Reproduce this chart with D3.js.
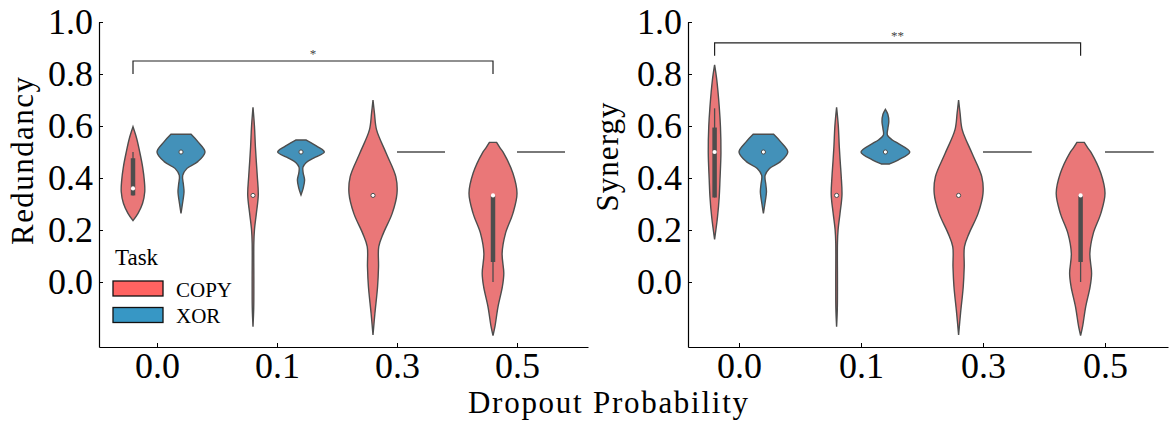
<!DOCTYPE html>
<html>
<head>
<meta charset="utf-8">
<script src="https://cdn.jsdelivr.net/npm/d3@7"></script>
<style>
  body { margin: 0; background: #fff; }
  svg { display: block; }
  text { font-family: "Liberation Serif", "DejaVu Serif", serif; fill: #000; }
</style>
</head>
<body>
<svg id="chart" width="1172" height="425"></svg>
<script>
// ---- data ----
const dropoutLevels = ["0.0", "0.1", "0.3", "0.5"];
const tasks = ["COPY", "XOR"];
const yTicks = [0.0, 0.2, 0.4, 0.6, 0.8, 1.0];

// profile: [value, relative half width]; box: [q1, q3, whiskerLo, whiskerHi, median]
const redundancyViolins = [
  {dropout: "0.0", task: "COPY",
   profile: [[0.597, 0], [0.553, 0.15], [0.50, 0.28], [0.443, 0.40], [0.392, 0.47], [0.347, 0.49], [0.303, 0.40], [0.264, 0.21], [0.236, 0]],
   box: [0.333, 0.476, 0.333, 0.50, 0.36]},
  {dropout: "0.0", task: "XOR",
   profile: [[0.568, 0.42], [0.54, 0.70], [0.50, 1.0], [0.463, 0.70], [0.437, 0.25], [0.41, 0.07], [0.375, 0.10], [0.347, 0.125], [0.30, 0.06], [0.264, 0]],
   box: [0.5, 0.5, 0.5, 0.5, 0.5]},
  {dropout: "0.1", task: "COPY",
   profile: [[0.672, 0], [0.60, 0.06], [0.52, 0.10], [0.46, 0.14], [0.405, 0.18], [0.335, 0.22], [0.264, 0.14], [0.20, 0.06], [0.15, 0.035], [0.0, 0.035], [-0.10, 0.03], [-0.172, 0]],
   box: [0.333, 0.333, 0.333, 0.333, 0.333]},
  {dropout: "0.1", task: "XOR",
   profile: [[0.546, 0.22], [0.52, 0.70], [0.50, 0.97], [0.48, 0.60], [0.46, 0.22], [0.441, 0.08], [0.42, 0.09], [0.392, 0.15], [0.36, 0.09], [0.335, 0]],
   box: [0.5, 0.5, 0.5, 0.5, 0.5]},
  {dropout: "0.3", task: "COPY",
   profile: [[0.70, 0], [0.65, 0.06], [0.585, 0.15], [0.495, 0.55], [0.405, 0.95], [0.341, 1.0], [0.264, 0.80], [0.187, 0.43], [0.136, 0.24], [0.059, 0.23], [-0.018, 0.19], [-0.12, 0.08], [-0.204, 0]],
   box: [0.333, 0.333, 0.333, 0.333, 0.333]},
  {dropout: "0.3", task: "XOR", profile: [[0.5, 1.0]], box: null},
  {dropout: "0.5", task: "COPY",
   profile: [[0.537, 0.15], [0.515, 0.30], [0.495, 0.45], [0.418, 0.83], [0.341, 1.0], [0.264, 0.83], [0.187, 0.52], [0.11, 0.38], [0.033, 0.45], [-0.018, 0.39], [-0.095, 0.21], [-0.172, 0.08], [-0.206, 0]],
   box: [0.077, 0.333, 0.0, 0.333, 0.333]},
  {dropout: "0.5", task: "XOR", profile: [[0.5, 1.0]], box: null}
];

const synergyViolins = [
  {dropout: "0.0", task: "COPY",
   profile: [[0.835, 0], [0.777, 0.09], [0.674, 0.19], [0.597, 0.24], [0.499, 0.26], [0.392, 0.22], [0.328, 0.19], [0.251, 0.12], [0.164, 0]],
   box: [0.325, 0.594, 0.325, 0.668, 0.50]},
  {dropout: "0.0", task: "XOR",
   profile: [[0.568, 0.42], [0.54, 0.70], [0.50, 1.0], [0.463, 0.70], [0.437, 0.25], [0.41, 0.07], [0.375, 0.10], [0.347, 0.125], [0.30, 0.06], [0.264, 0]],
   box: [0.5, 0.5, 0.5, 0.5, 0.5]},
  {dropout: "0.1", task: "COPY",
   profile: [[0.672, 0], [0.60, 0.07], [0.52, 0.11], [0.46, 0.15], [0.405, 0.19], [0.335, 0.22], [0.264, 0.14], [0.20, 0.06], [0.15, 0.035], [0.0, 0.035], [-0.10, 0.03], [-0.172, 0]],
   box: [0.333, 0.333, 0.333, 0.333, 0.333]},
  {dropout: "0.1", task: "XOR",
   profile: [[0.664, 0], [0.645, 0.10], [0.617, 0.14], [0.59, 0.10], [0.565, 0.08], [0.545, 0.30], [0.533, 0.52], [0.50, 1.0], [0.469, 0.52], [0.454, 0.17]],
   box: [0.5, 0.5, 0.5, 0.5, 0.5]},
  {dropout: "0.3", task: "COPY",
   profile: [[0.70, 0], [0.65, 0.06], [0.585, 0.15], [0.495, 0.55], [0.405, 0.95], [0.341, 1.0], [0.264, 0.80], [0.187, 0.43], [0.136, 0.24], [0.059, 0.23], [-0.018, 0.19], [-0.12, 0.08], [-0.204, 0]],
   box: [0.333, 0.333, 0.333, 0.333, 0.333]},
  {dropout: "0.3", task: "XOR", profile: [[0.5, 1.0]], box: null},
  {dropout: "0.5", task: "COPY",
   profile: [[0.537, 0.15], [0.515, 0.30], [0.495, 0.45], [0.418, 0.83], [0.341, 1.0], [0.264, 0.83], [0.187, 0.52], [0.11, 0.38], [0.033, 0.45], [-0.018, 0.39], [-0.095, 0.21], [-0.172, 0.08], [-0.206, 0]],
   box: [0.077, 0.333, 0.0, 0.333, 0.333]},
  {dropout: "0.5", task: "XOR", profile: [[0.5, 1.0]], box: null}
];

const sigBrackets = [
  {metric: "Redundancy", from: "0.0", to: "0.5", task: "COPY", y: 0.85, drop: 0.05, label: "*"},
  {metric: "Synergy", from: "0.0", to: "0.5", task: "COPY", y: 0.92, drop: 0.05, label: "**"}
];

// ---- style / layout ----
const violinFill = {COPY: "#ea7778", XOR: "#4391b9"};
const legendFill = {COPY: "#ff6361", XOR: "#3797c5"};
const lineGray = "#4d4d4d";

const panels = [
  {metric: "Redundancy", violins: redundancyViolins, x0: 99, x1: 588, cat0: 157, step: 120, labelX: 33, labelY: 161, legend: true},
  {metric: "Synergy", violins: synergyViolins, x0: 688, x1: 1168, cat0: 739, step: 122, labelX: 618, labelY: 157, legend: false}
];

const svg = d3.select("#chart");
svg.append("rect").attr("width", 1172).attr("height", 425).attr("fill", "#fff");

const y = d3.scaleLinear().domain([-0.25, 1.0]).range([347, 22]);

panels.forEach(p => {
  const x = d3.scaleLinear()
      .domain([(p.x0 - p.cat0) / p.step, (p.x1 - p.cat0) / p.step])
      .range([p.x0, p.x1]);
  const catX = d => x(dropoutLevels.indexOf(d));
  const hueOffset = t => (tasks.indexOf(t) === 0 ? -0.2 : 0.2) * p.step;
  const w = d3.scaleLinear().domain([0, 1]).range([0, 0.2 * p.step]);

  const g = svg.append("g");

  // violins
  p.violins.forEach(v => {
    const cx = catX(v.dropout) + hueOffset(v.task);
    if (v.profile.length === 1) {
      const [val, hw] = v.profile[0];
      g.append("line")
          .attr("x1", cx - w(hw)).attr("x2", cx + w(hw))
          .attr("y1", y(val)).attr("y2", y(val))
          .attr("stroke", lineGray).attr("stroke-width", 1.4);
      return;
    }
    const area = d3.area()
        .y(d => y(d[0]))
        .x0(d => cx - w(d[1]))
        .x1(d => cx + w(d[1]))
        .curve(d3.curveCatmullRom.alpha(0.5));
    g.append("path")
        .attr("d", area(v.profile))
        .attr("fill", violinFill[v.task])
        .attr("stroke", lineGray)
        .attr("stroke-width", 1.4);

    if (v.box) {
      const [q1, q3, lo, hi, med] = v.box;
      g.append("line")
          .attr("x1", cx).attr("x2", cx)
          .attr("y1", y(lo)).attr("y2", y(hi))
          .attr("stroke", lineGray).attr("stroke-width", 1.3);
      if (q3 > q1) {
        g.append("line")
            .attr("x1", cx).attr("x2", cx)
            .attr("y1", y(q1)).attr("y2", y(q3))
            .attr("stroke", lineGray).attr("stroke-width", 4.5);
      }
      g.append("circle")
          .attr("cx", cx).attr("cy", y(med)).attr("r", 2.1)
          .attr("fill", "#fff")
          .attr("stroke", q3 > q1 ? "none" : lineGray)
          .attr("stroke-width", 1);
    }
  });

  // axes
  const yAxis = g.append("g")
      .attr("transform", `translate(${p.x0},0)`)
      .call(d3.axisLeft(y).tickValues(yTicks).tickFormat(d3.format(".1f")).tickSize(-4).tickSizeOuter(0));
  yAxis.selectAll("text")
      .attr("x", -6).attr("dy", "0.33em")
      .style("font-size", "36px");

  const xAxis = g.append("g")
      .attr("transform", "translate(0,347)")
      .call(d3.axisBottom(x).tickValues(d3.range(dropoutLevels.length)).tickFormat(i => dropoutLevels[i]).tickSize(-4).tickSizeOuter(0));
  xAxis.selectAll("text")
      .attr("y", 31).attr("dy", 0)
      .style("font-size", "36px");

  [yAxis, xAxis].forEach(a => {
    a.select(".domain").attr("stroke", "#000").attr("stroke-width", 1.2);
    a.selectAll(".tick line").attr("stroke", "#000").attr("stroke-width", 1);
  });

  // y label
  g.append("text")
      .attr("transform", `translate(${p.labelX},${p.labelY}) rotate(-90)`)
      .attr("text-anchor", "middle")
      .attr("textLength", p.metric === "Redundancy" ? 168 : 109)
      .style("font-size", "31px")
      .text(p.metric);

  // significance bracket
  sigBrackets.filter(b => b.metric === p.metric).forEach(b => {
    const xa = catX(b.from) + hueOffset(b.task);
    const xb = catX(b.to) + hueOffset(b.task);
    g.append("path")
        .attr("d", `M${xa},${y(b.y - b.drop)}V${y(b.y)}H${xb}V${y(b.y - b.drop)}`)
        .attr("fill", "none").attr("stroke", "#222").attr("stroke-width", 1.2);
    g.append("text")
        .attr("x", (xa + xb) / 2).attr("y", y(b.y) - 3)
        .attr("text-anchor", "middle")
        .style("font-size", "13px").style("fill", "#444")
        .text(b.label);
  });

  // legend
  if (p.legend) {
    const lg = g.append("g").attr("transform", "translate(113,0)");
    lg.append("text").attr("x", 2).attr("y", 265).style("font-size", "23px").text("Task");
    tasks.forEach((t, i) => {
      const top = 281 + i * 26.5;
      lg.append("rect")
          .attr("x", 0).attr("y", top).attr("width", 50).attr("height", 15)
          .attr("fill", legendFill[t]).attr("stroke", "#111").attr("stroke-width", 1.3);
      lg.append("text").attr("x", 63).attr("y", top + 15.5).style("font-size", "21px").text(t);
    });
  }
});

svg.append("text")
    .attr("x", 608).attr("y", 413)
    .attr("text-anchor", "middle")
    .attr("textLength", 280)
    .style("font-size", "31px")
    .text("Dropout Probability");
</script>
</body>
</html>
